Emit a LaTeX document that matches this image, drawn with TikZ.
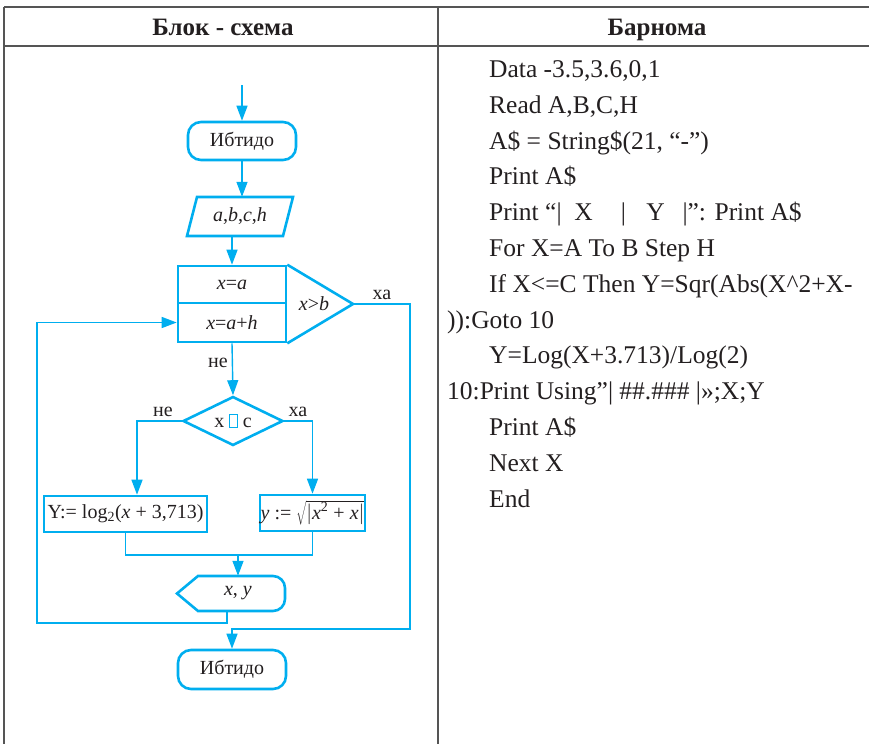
\documentclass[tikz,border=0pt]{standalone}
\usepackage{fontspec}
\setmainfont{Liberation Serif}
\usetikzlibrary{arrows.meta,shapes.geometric}

\definecolor{flow}{RGB}{0,174,239}
\definecolor{tabline}{RGB}{85,85,85}
\definecolor{ink}{RGB}{35,31,32}

\begin{document}
\begin{tikzpicture}[x=1pt, y=-1pt,
    font=\fontsize{20}{24}\selectfont, text=ink,
    block/.style={draw=flow, line width=2.6pt, minimum width=108pt,
        minimum height=37pt, inner sep=0pt},
    term/.style={block, rounded corners=13pt, minimum height=38pt},
    outline/.style={draw=flow, line width=2.6pt, line join=miter},
    link/.style={draw=flow, line width=1.4pt},
    arr/.style={link, -{Triangle[length=15pt,width=11pt]}},
    code/.style={anchor=base west, inner sep=0pt,
        font=\fontsize{25.5}{30}\selectfont},
    head/.style={anchor=base, inner sep=0pt,
        font=\bfseries\fontsize{25}{30}\selectfont}]

\useasboundingbox (0,0) rectangle (869,744);

% table
\draw[tabline, line width=2pt] (4,7) -- (869,7);
\draw[tabline, line width=2pt] (4,46) -- (869,46);
\draw[tabline, line width=2pt] (4,7) -- (4,744);
\draw[tabline, line width=2pt] (438,7) -- (438,744);

\node[head] (hleft) at (223,35.5) {Блок - схема};
\node[head] (hright) at (657,35.5) {Барнома};

% flowchart
\coordinate (entry) at (242,85);
\node[term] (start) at (242,141) {Ибтидо};

\draw[outline] (197,197) -- (293,197) -- (283,236) -- (187,236) -- cycle;
\node[inner sep=0pt, minimum width=86pt, minimum height=39pt] (inp) at (240,216.5)
    {\textit{a},\textit{b},\textit{c},\textit{h}};

\node[block] (init) at (232,284.5) {\textit{x}=\textit{a}};
\node[block, minimum height=39pt] (next) at (232,322.5) {\textit{x}=\textit{a}+\textit{h}};
\coordinate (tip) at (353,304);
\draw[outline] (init.north east) -- (tip) -- (next.south east);
\node (test) at (314,304) {\textit{x}>\textit{b}};

\node[diamond, draw=flow, line width=2.6pt, inner sep=0pt, aspect=2,
    minimum width=100pt, minimum height=49pt] (cond) at (233,421)
    {x {\setlength\fboxrule{0.8pt}\setlength\fboxsep{0pt}%
     \fcolorbox{flow}{white}{\rule{7pt}{0pt}\rule{0pt}{12pt}}} c};

\node[block, minimum width=163pt, minimum height=36pt] (left) at (125.5,514)
    {Y:= log\textsubscript{2}(\textit{x} + 3,713)};
\node[block, minimum width=105pt, minimum height=36pt] (right) at (312.5,513)
    {\textit{y} := $\sqrt{|\mbox{\textit{x}\textsuperscript{2} + \textit{x}}|}$};

\coordinate (merge) at (238,555);
\draw[outline] (177,593.5) -- (198,576) [rounded corners=12pt] -- (285,576)
    -- (285,611) [sharp corners] -- (198,611) -- cycle;
\node[inner sep=0pt, minimum width=94pt, minimum height=35pt] (out) at (238,593.5)
    {\textit{x}, \textit{y}};

\node[term, minimum height=39pt] (stop) at (232,669.5) {Ибтидо};

% connectors
\draw[arr] (entry) -- (start.north);
\draw[arr] (start.south) -- (start.south |- inp.north);
\draw[arr] (init.north |- inp.south) -- (init.north);
\draw[arr] (next.south) -- (cond.north);
\draw[arr] (cond.west) -| ([xshift=11.5pt]left.north);
\draw[arr] (cond.east) -| (right.north);
\draw[link] (left.south) |- (merge) -| (right.south);
\draw[arr] (merge) -- (out.north);
\draw[arr] ([xshift=-11pt]out.south) |- (37,623) |- (next.west);
\draw[arr] (tip) -| (410,629) -| (stop.north);

\node (yes1) at (382,295) {ха};
\node (no1) at (218,363) {не};
\node (no2) at (163,412) {не};
\node (yes2) at (298,412) {ха};

% program
\node[code] (c1) at (489,77.5) {Data -3.5,3.6,0,1};
\node[code] (c2) at (489,113.3) {Read A,B,C,H};
\node[code] (c3) at (489,149.1) {A\$ = String\$(21, “-”)};
\node[code] (c4) at (489,184.9) {Print A\$};
\node[code] (c5) at (489,220.7) {Print “|\hspace{0.5em}X\hspace{1.1em}|\hspace{0.8em}Y\hspace{0.7em}|”: Print A\$};
\node[code] (c6) at (489,256.5) {For X=A To B Step H};
\node[code] (c7) at (489,292.3) {If X<=C Then Y=Sqr(Abs(X\^{}2+X-};
\node[code] (c8) at (447,328.1) {)):Goto 10};
\node[code] (c9) at (489,363.9) {Y=Log(X+3.713)/Log(2)};
\node[code] (c10) at (447,399.7) {10:Print Using”| \#\#.\#\#\# |»;X;Y};
\node[code] (c11) at (489,435.5) {Print A\$};
\node[code] (c12) at (489,471.3) {Next X};
\node[code] (c13) at (489,507.1) {End};

\end{tikzpicture}
\end{document}
